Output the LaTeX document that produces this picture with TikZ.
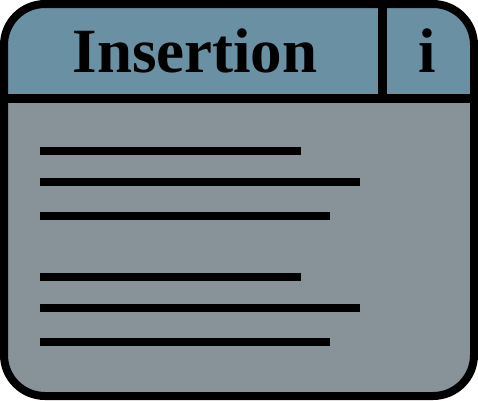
\documentclass[tikz,border=0pt]{standalone}
\usepackage{fontspec}
\setmainfont{Liberation Serif}
\definecolor{headblue}{RGB}{106,145,163}
\definecolor{bodygray}{RGB}{136,146,153}
\tikzset{
  frame/.style={line width=8pt,line join=round},
  divider/.style={line width=9pt},
  textline/.style={line width=7.5pt},
  heading/.style={font=\fontsize{63}{63}\selectfont\bfseries,anchor=base,inner sep=0pt}
}
\begin{document}
\begin{tikzpicture}[x=1pt,y=-1pt]
    \useasboundingbox (0,0) rectangle (478,400);
    % body and header
    \fill[bodygray,rounded corners=41pt] (4,4) rectangle (474,396);
    \fill[headblue] (4,98) [rounded corners=41pt] -- (4,4) -- (474,4) [sharp corners] -- (474,98) -- cycle;
    \draw[divider] (4,98) -- (474,98);
    \draw[divider] (382,4) -- (382,98);
    \draw[frame,rounded corners=41pt] (4,4) rectangle (474,396);
    \node[heading] (title) at (195,72) {Insertion};
    \node[heading] (info) at (427,72) {i};
    % text lines
    \foreach \y/\len in {151/301, 182/360, 216/330, 277/301, 308/360, 342/330} {
      \draw[textline] (40,\y) -- (\len,\y);
    }
\end{tikzpicture}
\end{document}
